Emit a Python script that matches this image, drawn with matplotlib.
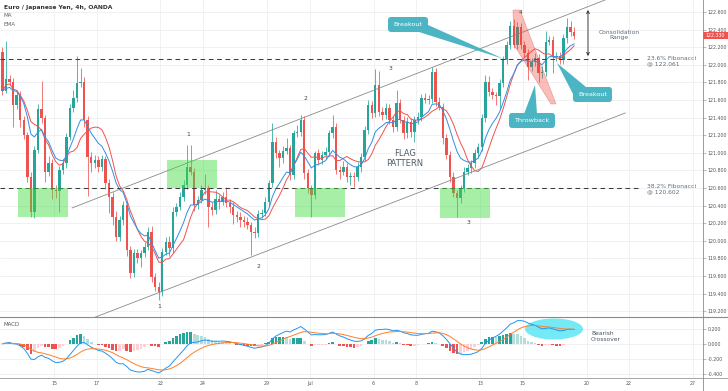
import numpy as np
import pandas as pd
import matplotlib
matplotlib.use("Agg")
import matplotlib.pyplot as plt
from matplotlib.patches import Rectangle, Polygon, FancyBboxPatch, Ellipse
from matplotlib.lines import Line2D
from matplotlib.transforms import Affine2D

# ---------------- data (EUR/JPY 4h candles) ----------------
first_open = 122.149
closes = [
    121.706, 121.835, 121.808, 121.543, 121.657, 121.373, 121.202, 120.729, 120.331, 121.032,
    121.494, 121.392, 120.786, 120.880, 120.577, 120.570, 120.804, 120.880, 121.183, 121.505,
    121.619, 121.797, 121.808, 121.373, 120.956, 120.880, 120.918, 120.842, 120.926, 120.653,
    120.501, 120.274, 120.047, 120.236, 120.407, 119.895, 119.630, 119.857, 119.801, 119.857,
    119.933, 120.104, 119.592, 119.479, 119.422, 119.876, 119.990, 119.914, 120.331, 120.388,
    120.501, 120.634, 120.842, 120.786, 120.407, 120.464, 120.577, 120.596, 120.388, 120.350,
    120.475, 120.445, 120.494, 120.433, 120.388, 120.293, 120.274, 120.236, 120.217, 120.179,
    120.104, 120.085, 120.304, 120.320, 120.445, 120.653, 121.126, 120.994, 120.937, 121.024,
    121.051, 120.748, 121.221, 121.240, 121.373, 120.767, 120.596, 120.520, 120.994, 120.918,
    120.975, 121.013, 121.221, 121.297, 120.804, 120.786, 120.842, 120.729, 120.736, 120.729,
    120.842, 120.956, 121.259, 121.543, 121.448, 121.770, 121.467, 121.429, 121.505, 121.373,
    121.297, 121.562, 121.373, 121.221, 121.354, 121.240, 121.373, 121.411, 121.619, 121.600,
    121.607, 121.922, 121.581, 121.524, 121.164, 120.975, 120.729, 120.539, 120.482, 120.596,
    120.786, 120.823, 120.880, 120.994, 121.070, 121.392, 121.808, 121.695, 121.657, 121.645,
    121.789, 122.054, 122.225, 122.441, 122.225, 122.433, 122.225, 122.130, 121.979, 122.036,
    122.073, 121.903, 121.922, 122.263, 122.282, 122.092, 122.100, 122.054, 122.301, 122.433,
    122.376, 122.330,
]
upper_wick = [
    0.05, 0.44, 0.05, 0.04, 0.06, 0.04, 0.05, 0.03, 0.05, 0.04,
    0.06, 0.32, 0.04, 0.08, 0.05, 0.06, 0.05, 0.05, 0.04, 0.05,
    0.10, 0.30, 0.15, 0.05, 0.04, 0.05, 0.06, 0.05, 0.05, 0.04,
    0.05, 0.05, 0.06, 0.05, 0.05, 0.04, 0.05, 0.05, 0.05, 0.04,
    0.05, 0.05, 0.06, 0.04, 0.05, 0.04, 0.05, 0.06, 0.05, 0.04,
    0.05, 0.06, 0.25, 0.25, 0.04, 0.05, 0.06, 0.16, 0.04, 0.05,
    0.10, 0.05, 0.06, 0.12, 0.04, 0.05, 0.04, 0.05, 0.04, 0.05,
    0.04, 0.05, 0.05, 0.04, 0.05, 0.04, 0.21, 0.05, 0.04, 0.05,
    0.12, 0.04, 0.04, 0.08, 0.06, 0.04, 0.05, 0.04, 0.03, 0.05,
    0.05, 0.05, 0.04, 0.13, 0.04, 0.05, 0.06, 0.04, 0.04, 0.04,
    0.05, 0.04, 0.05, 0.06, 0.05, 0.18, 0.16, 0.05, 0.06, 0.05,
    0.04, 0.15, 0.05, 0.04, 0.05, 0.04, 0.05, 0.05, 0.05, 0.06,
    0.05, 0.05, 0.04, 0.05, 0.04, 0.05, 0.04, 0.05, 0.04, 0.04,
    0.05, 0.05, 0.04, 0.05, 0.04, 0.05, 0.08, 0.06, 0.04, 0.03,
    0.05, 0.05, 0.05, 0.06, 0.08, 0.05, 0.04, 0.05, 0.05, 0.04,
    0.06, 0.05, 0.06, 0.12, 0.05, 0.05, 0.04, 0.05, 0.05, 0.10,
    0.06, 0.05,
]
lower_wick = [
    0.05, 0.03, 0.04, 0.25, 0.05, 0.08, 0.05, 0.06, 0.06, 0.07,
    0.04, 0.05, 0.12, 0.05, 0.10, 0.08, 0.24, 0.04, 0.05, 0.04,
    0.04, 0.04, 0.05, 0.08, 0.45, 0.10, 0.05, 0.06, 0.05, 0.06,
    0.18, 0.10, 0.05, 0.05, 0.06, 0.07, 0.05, 0.04, 0.05, 0.10,
    0.04, 0.04, 0.06, 0.05, 0.09, 0.05, 0.04, 0.09, 0.05, 0.05,
    0.04, 0.05, 0.05, 0.04, 0.07, 0.05, 0.04, 0.05, 0.23, 0.06,
    0.05, 0.08, 0.04, 0.05, 0.07, 0.10, 0.06, 0.08, 0.06, 0.05,
    0.27, 0.05, 0.04, 0.05, 0.04, 0.05, 0.04, 0.05, 0.10, 0.05,
    0.04, 0.06, 0.05, 0.04, 0.05, 0.06, 0.05, 0.25, 0.05, 0.06,
    0.04, 0.04, 0.05, 0.05, 0.04, 0.08, 0.04, 0.06, 0.09, 0.12,
    0.05, 0.06, 0.05, 0.04, 0.05, 0.04, 0.05, 0.06, 0.05, 0.05,
    0.06, 0.05, 0.04, 0.06, 0.05, 0.06, 0.12, 0.05, 0.05, 0.04,
    0.05, 0.04, 0.05, 0.04, 0.06, 0.05, 0.06, 0.04, 0.21, 0.05,
    0.04, 0.04, 0.05, 0.05, 0.05, 0.05, 0.04, 0.05, 0.05, 0.10,
    0.15, 0.04, 0.04, 0.05, 0.04, 0.05, 0.05, 0.04, 0.15, 0.05,
    0.05, 0.10, 0.05, 0.05, 0.04, 0.18, 0.05, 0.05, 0.04, 0.05,
    0.05, 0.04,
]

date_labels = ["15", "17", "22", "24", "29", "Jul", "6", "8", "13", "15", "20", "22", "27"]
date_trading_day = [0, 2, 5, 7, 10, 12, 15, 17, 20, 22, 25, 27, 30]
candles_per_day = 6
first_label_candle = 14.5

price_ticks = [119.2, 119.4, 119.6, 119.8, 120.0, 120.2, 120.4, 120.6, 120.8,
               121.0, 121.2, 121.4, 121.6, 121.8, 122.0, 122.2, 122.4, 122.6]
macd_ticks = [-0.4, -0.2, 0.0, 0.2]

fib_levels = [122.061, 120.602]
fib_labels = ["23.6% Fibonacci\n@ 122.061", "38.2% Fibonacci\n@ 120.602"]
last_price = 122.330

# channel (candle index, price)
upper_channel = [(19.6, 120.373), (169.7, 122.736)]
lower_channel = [(26.2, 119.134), (175.4, 121.452)]
# support boxes: (x0, x1, p0, p1)
support_boxes = [(4.4, 18.5, 120.27, 120.60), (46.3, 60.4, 120.60, 120.92),
                 (82.4, 96.5, 120.27, 120.60), (123.2, 137.3, 120.26, 120.60)]

# ---------------- derived ----------------
c = np.array(closes)
o = np.array([first_open] + closes[:-1])
h = np.maximum(o, c) + np.array(upper_wick)
l = np.minimum(o, c) - np.array(lower_wick)
idx = np.arange(len(c))
s = pd.Series(c)
ma = s.rolling(10, min_periods=1).mean()
ema = s.ewm(span=10, adjust=False).mean()
macd = s.ewm(span=12, adjust=False).mean() - s.ewm(span=26, adjust=False).mean()
signal = macd.ewm(span=9, adjust=False).mean()
hist = macd - signal

UP, DN = "#26a69a", "#ef5350"

W, H = 728, 391
fig = plt.figure(figsize=(W / 100, H / 100), dpi=100)
fig.patch.set_facecolor("white")
T = Affine2D().scale(1 / W, -1 / H).translate(0, 1) + fig.transFigure

ax = fig.add_axes([0, (H - 317) / H, 703 / W, 317 / H])
axm = fig.add_axes([0, (H - 378) / H, 703 / W, 61 / H])

xlim = (-0.7, 197.3)
tick_idx = [first_label_candle + candles_per_day * d for d in date_trading_day]

for a in (ax, axm):
    a.set_xlim(*xlim)
    a.set_xticks(tick_idx)
    a.grid(True, color="#eceff4", lw=0.6)
    a.set_axisbelow(True)
    a.yaxis.tick_right()
    a.tick_params(axis="y", length=2, width=0.4, color="#888", labelsize=3.4,
                  labelcolor="#555", pad=1.5)
    for sp in ("top", "left", "bottom", "right"):
        a.spines[sp].set_visible(False)

ax.set_ylim(119.134, 122.736)
ax.set_yticks(price_ticks)
ax.set_yticklabels([f"{p:.3f}" for p in price_ticks])
ax.tick_params(axis="x", length=0, labelbottom=False)

axm.set_ylim(-0.459, 0.357)
axm.set_yticks(macd_ticks)
axm.set_yticklabels([f"{p:.3f}" for p in macd_ticks])
axm.set_xticklabels(date_labels)
axm.tick_params(axis="x", length=0, labelsize=3.4, labelcolor="#555", pad=2.5)

# candles
colors = np.where(c >= o, UP, DN)
ax.vlines(idx, l, h, colors=colors, lw=0.55, zorder=2)
body_lo = np.minimum(o, c)
body_h = np.maximum(np.abs(c - o), 0.006)
ax.bar(idx, body_h, bottom=body_lo, width=0.68, color=colors, lw=0, zorder=3)

# moving averages
ax.plot(idx, ma, color="#f0524f", lw=0.7, zorder=4)
ax.plot(idx, ema, color="#2f8fe6", lw=0.7, zorder=4)

# fibonacci levels
for lv in fib_levels:
    ax.plot([xlim[0], 179.0], [lv, lv], color="#3d3d3d", lw=0.75, dashes=(4.5, 3.5), zorder=5)

# channel
for (x0, y0), (x1, y1) in (upper_channel, lower_channel):
    ax.plot([x0, x1], [y0, y1], color="#8a8a8a", lw=0.6, zorder=5)

# support boxes
for x0, x1, p0, p1 in support_boxes:
    ax.add_patch(Rectangle((x0, p0), x1 - x0, p1 - p0, facecolor="#3ddc3d",
                           alpha=0.45, lw=0, zorder=6))

# throwback flag
flag = Polygon([(513, 10), (520, 10), (556, 104), (551, 104), (514, 45)], closed=True,
               transform=T, facecolor="#f44336", alpha=0.35, edgecolor="#d32f2f", lw=0.5, zorder=6)
ax.add_patch(flag)

# callouts
CT = "#4cb5c3"
def callout(a, text, box, wedge):
    x0, y0, x1, y1 = box
    a.add_patch(Polygon(wedge, closed=True, transform=T, facecolor=CT, lw=0, zorder=8))
    a.add_patch(FancyBboxPatch((x0, y0), x1 - x0, y1 - y0,
                               boxstyle="round,pad=0,rounding_size=3", transform=T,
                               facecolor=CT, lw=0, zorder=8))
    a.text((x0 + x1) / 2, (y0 + y1) / 2 + 0.3, text, transform=T, ha="center", va="center",
           color="white", fontsize=4.6, zorder=9)

callout(ax, "Breakout", (388, 17, 428, 32), [(419, 32), (428, 25), (504, 59)])
callout(ax, "Breakout", (573, 87, 612, 102), [(573, 94), (586, 87), (557, 63)])
callout(ax, "Throwback", (509, 113, 555, 128), [(524, 114), (537, 114), (535, 85)])

# texts
txt_col = "#5d6b7a"
ax.text(405, 158.5, "FLAG\nPATTERN", transform=T, ha="center", va="center",
        fontsize=6.0, color="#4f5d6b", linespacing=1.05, zorder=9)
ax.text(647, 61, fib_labels[0], transform=T, ha="left", va="center",
        fontsize=4.3, color=txt_col, linespacing=1.0, zorder=9)
ax.text(647, 189.5, fib_labels[1], transform=T, ha="left", va="center",
        fontsize=4.3, color=txt_col, linespacing=1.0, zorder=9)
ax.text(619, 35.5, "Consolidation\nRange", transform=T, ha="center", va="center",
        fontsize=4.3, color=txt_col, linespacing=1.0, zorder=9)
ax.annotate("", xy=(588, 10), xytext=(588, 56), xycoords=T, textcoords=T,
            arrowprops=dict(arrowstyle="<->", color="#222", lw=0.6,
                            mutation_scale=5, shrinkA=0, shrinkB=0), zorder=9)

for lab, px, py in [("1", 188, 135), ("1", 159, 307), ("2", 305, 99), ("2", 258, 266),
                    ("3", 390, 68), ("3", 468, 223), ("4", 521, 12)]:
    ax.text(px, py, lab, transform=T, ha="center", va="center", fontsize=4.3,
            color="#444", zorder=9)

# MACD panel
hcol = []
for i, v in enumerate(hist):
    prev = hist.iloc[i - 1] if i > 0 else 0.0
    if v >= 0:
        hcol.append("#26a69a" if v > prev else "#b2dfdb")
    else:
        hcol.append("#ef5350" if v < prev else "#ffcdd2")
axm.add_patch(Ellipse((554, 329), 58, 21, transform=T, facecolor="#16dcf0",
                      alpha=0.6, lw=0, zorder=1))
axm.bar(idx, hist, width=0.75, color=hcol, lw=0, zorder=2)
axm.plot(idx, macd, color="#2196f3", lw=0.7, zorder=3)
axm.plot(idx, signal, color="#ff7f27", lw=0.7, zorder=3)
axm.text(4, 325, "MACD", transform=T, ha="left", va="center", fontsize=4.0, color="#555")
axm.text(591, 336.5, "Bearish\nCrossover", transform=T, ha="left", va="center",
         fontsize=4.3, color="#4a5563", linespacing=1.05)

# header
fig.text(4, 7, "Euro / Japanese Yen, 4h, OANDA", transform=T, ha="left", va="center",
         fontsize=4.3, color="#333", fontweight="bold")
fig.text(4, 15.5, "MA", transform=T, ha="left", va="center", fontsize=4.1, color="#666")
fig.text(4, 24, "EMA", transform=T, ha="left", va="center", fontsize=4.1, color="#666")

# frame lines
fig.add_artist(Line2D([0, 1], [(H - 317) / H] * 2, transform=fig.transFigure, color="#8a8a8a", lw=0.8))
fig.add_artist(Line2D([0, 1], [(H - 378) / H] * 2, transform=fig.transFigure, color="#9a9a9a", lw=0.6))
fig.add_artist(Line2D([703 / W] * 2, [0, 1], transform=fig.transFigure, color="#8a8a8a", lw=0.6))

# last price tag
py_last = 188 - (last_price - 120.6) * 88
fig.add_artist(Rectangle((703, py_last - 3.6), 25, 7.2, transform=T, facecolor="#ef5350", lw=0))
fig.text(715.5, py_last + 0.2, f"{last_price:.3f}", transform=T, ha="center", va="center",
         fontsize=3.4, color="white")

fig.savefig("out.png", dpi=100, facecolor="white")
